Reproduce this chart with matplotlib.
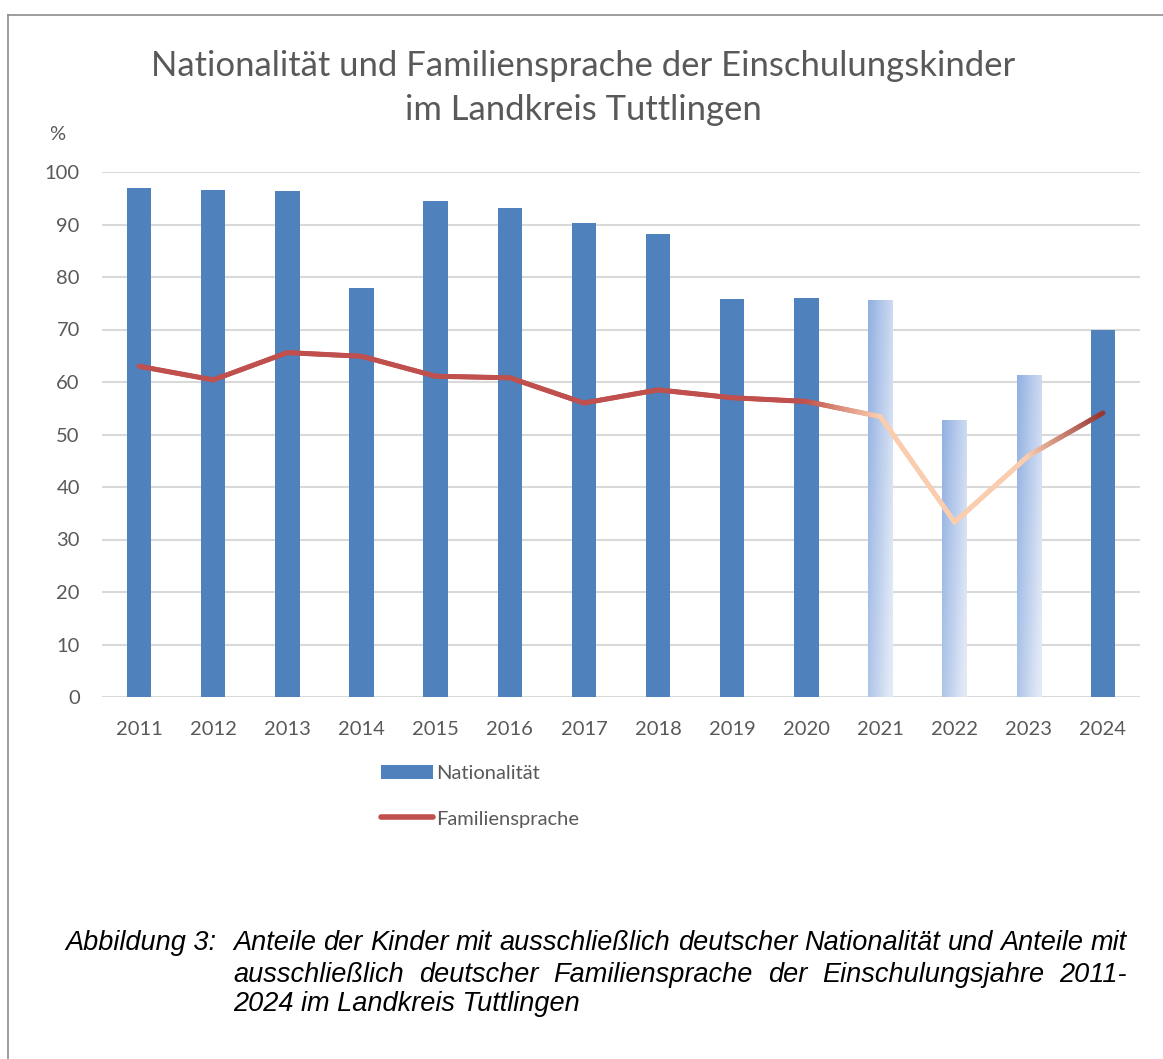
import numpy as np
import matplotlib
matplotlib.use("Agg")
import matplotlib.pyplot as plt
from matplotlib.collections import LineCollection
from matplotlib.patches import Patch
from matplotlib.lines import Line2D
from matplotlib.colors import to_rgb
from matplotlib import font_manager

# data
years = ["2011", "2012", "2013", "2014", "2015", "2016", "2017",
         "2018", "2019", "2020", "2021", "2022", "2023", "2024"]
nationalitaet = [96.9, 96.6, 96.4, 77.9, 94.5, 93.1, 90.3,
                 88.2, 75.8, 76.0, 75.6, 52.8, 61.3, 69.9]
familiensprache = [63.0, 60.4, 65.6, 64.9, 61.1, 60.8, 56.0,
                   58.5, 57.0, 56.3, 53.4, 33.3, 46.0, 54.1]
yticks = [0, 10, 20, 30, 40, 50, 60, 70, 80, 90, 100]
faded_bars = ["2021", "2022", "2023"]

title = "Nationalität und Familiensprache der Einschulungskinder\nim Landkreis Tuttlingen"
caption_label = "Abbildung 3:"
caption_lines = [
    "Anteile der Kinder mit ausschließlich deutscher Nationalität und Anteile mit",
    "ausschließlich deutscher Familiensprache der Einschulungsjahre 2011-",
    "2024 im Landkreis Tuttlingen",
]

blue = "#4F81BD"
red = "#C0504D"
peach = "#F9CDAE"
darkred = "#963431"
grey = "#595959"
grid = "#D9D9D9"

installed = {f.name for f in font_manager.fontManager.ttflist}
font = "Lato" if "Lato" in installed else "DejaVu Sans"
cap_font = "Liberation Sans"
plt.rcParams["font.family"] = [font, "DejaVu Sans"]
fs = 14.5

W, H = 1163, 1059
fig = plt.figure(figsize=(W / 100, H / 100), dpi=100)
ax = fig.add_axes([102 / W, 1 - 697 / H, (1140 - 102) / W, (697 - 172) / H])

x = np.arange(len(years))
bars = ax.bar(x, nationalitaet, width=0.33, color=blue, zorder=2)

# gradient fill for the faded bars
grad = np.zeros((50, 50, 3))
c_dark = np.array(to_rgb("#92B0E2"))
c_light = np.array(to_rgb("#E1E9F6"))
gx, gy = np.meshgrid(np.linspace(0, 1, 50), np.linspace(0, 1, 50))
t = np.clip(0.75 * gx + 0.35 * gy, 0, 1)
for k in range(3):
    grad[:, :, k] = c_dark[k] + (c_light[k] - c_dark[k]) * t
for yr, b in zip(years, bars):
    if yr in faded_bars:
        b.set_facecolor("none")
        bx, bw, bh = b.get_x(), b.get_width(), b.get_height()
        im = ax.imshow(grad, extent=(bx, bx + bw, 0, bh), origin="upper",
                       aspect="auto", zorder=2)
        im.set_clip_path(b)

# line with colour gradient where the data is provisional
pt_colors = []
for yr in years:
    if yr in faded_bars:
        pt_colors.append(to_rgb(peach))
    elif yr == "2024":
        pt_colors.append(to_rgb(darkred))
    else:
        pt_colors.append(to_rgb(red))
segs, cols = [], []
n_sub = 30
for i in range(len(years) - 1):
    dy = familiensprache[i + 1] - familiensprache[i]
    for j in range(n_sub):
        a, b2 = j / n_sub, (j + 1) / n_sub
        segs.append([(x[i] + a, familiensprache[i] + a * dy),
                     (x[i] + b2, familiensprache[i] + b2 * dy)])
        m = (a + b2) / 2
        cols.append(tuple(np.array(pt_colors[i]) * (1 - m) + np.array(pt_colors[i + 1]) * m))
lc = LineCollection(segs, colors=cols, linewidths=3.6, capstyle="round",
                    joinstyle="round", zorder=3)
ax.add_collection(lc)

ax.set_xlim(-0.5, len(years) - 0.5)
ax.set_ylim(0, 100)
ax.set_yticks(yticks)
ax.set_xticks(x, years)
ax.yaxis.grid(True, color=grid, linewidth=1.5, zorder=0)
ax.set_axisbelow(True)
for s in ax.spines.values():
    s.set_visible(False)
ax.tick_params(length=0, colors=grey, labelsize=fs)
ax.tick_params(axis="y", pad=16)
ax.tick_params(axis="x", pad=17)

fig.text(57 / W, 1 - 135 / H, "%", color=grey, fontsize=fs, ha="center", va="center")
fig.text(583 / W, 1 - 88 / H, title, color=grey, fontsize=24.9, ha="center",
         va="center", linespacing=1.45)

handles = [Patch(facecolor=blue),
           Line2D([0], [0], color=red, linewidth=4, solid_capstyle="round")]
fig.legend(handles, ["Nationalität", "Familiensprache"], loc="upper left",
           bbox_to_anchor=(363 / W, 1 - 747 / H), frameon=False, fontsize=fs,
           labelcolor=grey, handlelength=2.6, handleheight=0.7, handletextpad=0.15,
           labelspacing=1.4)

# frame around the chart
fig.add_artist(Line2D([8 / W, 8 / W], [0, 1 - 15 / H], color="#8C8C8C", linewidth=1.2))
fig.add_artist(Line2D([8 / W, 1], [1 - 15 / H, 1 - 15 / H], color="#8C8C8C", linewidth=1.2))

# caption, size fitted so that the first line fills the text column, then justified
left, right = 233, 1127
line_y = [943, 975, 1004]
fig.canvas.draw()
renderer = fig.canvas.get_renderer()
probe = fig.text(0, 0, caption_lines[0], fontsize=16, style="italic", family=cap_font)
cap_size = 16 * (right - left) / probe.get_window_extent(renderer).width
probe.remove()

fig.text(65 / W, 1 - line_y[0] / H, caption_label, fontsize=cap_size, style="italic",
         family=cap_font, va="center")
for li, line in enumerate(caption_lines):
    if li == len(caption_lines) - 1:
        fig.text(left / W, 1 - line_y[li] / H, line, fontsize=cap_size,
                 style="italic", family=cap_font, va="center")
        continue
    words = line.split(" ")
    txts = [fig.text(0, 1 - line_y[li] / H, w, fontsize=cap_size, style="italic",
                     family=cap_font, va="center") for w in words]
    widths = [tt.get_window_extent(renderer).width for tt in txts]
    gap = (right - left - sum(widths)) / (len(words) - 1)
    pos = left
    for tt, wd in zip(txts, widths):
        tt.set_x(pos / W)
        pos += wd + gap

fig.savefig("out.png", dpi=100)
